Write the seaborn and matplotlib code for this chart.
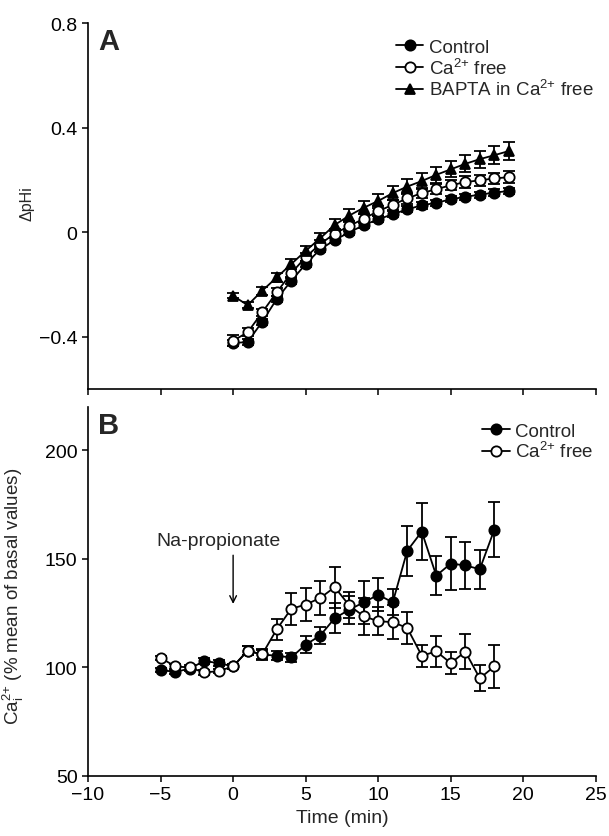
import numpy as np
import pandas as pd
import matplotlib
matplotlib.use("Agg")
import matplotlib.pyplot as plt
import seaborn as sns

# ---------------- data ----------------
# Panel A: delta pHi, time 0..19 min
time_a = list(range(0, 20))
ctrl_a = [-0.424, -0.420, -0.343, -0.256, -0.186, -0.122, -0.065, -0.030, 0.000, 0.027,
          0.050, 0.069, 0.088, 0.103, 0.113, 0.126, 0.136, 0.144, 0.152, 0.158]
ctrl_a_err = [0.012, 0.012, 0.012, 0.012, 0.012, 0.012, 0.012, 0.012, 0.012, 0.012,
              0.012, 0.012, 0.012, 0.012, 0.012, 0.012, 0.012, 0.012, 0.012, 0.012]
cafree_a = [-0.415, -0.383, -0.307, -0.230, -0.157, -0.095, -0.045, -0.005, 0.024, 0.052,
            0.081, 0.105, 0.130, 0.150, 0.165, 0.180, 0.192, 0.199, 0.206, 0.211]
cafree_a_err = [0.020, 0.015, 0.015, 0.015, 0.015, 0.015, 0.015, 0.018, 0.018, 0.018,
                0.020, 0.020, 0.020, 0.020, 0.020, 0.020, 0.022, 0.022, 0.022, 0.022]
bapta_a = [-0.243, -0.279, -0.224, -0.173, -0.122, -0.071, -0.023, 0.028, 0.064, 0.094,
           0.120, 0.150, 0.175, 0.196, 0.220, 0.241, 0.262, 0.280, 0.295, 0.311]
bapta_a_err = [0.010, 0.012, 0.015, 0.018, 0.020, 0.020, 0.022, 0.022, 0.024, 0.025,
               0.026, 0.027, 0.028, 0.029, 0.030, 0.031, 0.032, 0.033, 0.034, 0.035]

# Panel B: Ca2+i (% basal), time -5..18 min
time_b = list(range(-5, 19))
ctrl_b = [98.8, 98.0, 99.4, 103.0, 102.0, 100.5, 107.7, 106.0, 105.4, 104.6, 110.5, 114.7,
          122.7, 126.6, 130.0, 133.5, 130.0, 153.8, 162.6, 142.3, 147.9, 147.0, 145.3, 163.5]
ctrl_b_err = [1, 1, 1, 1.5, 1.5, 1, 2, 2.5, 2, 2, 4, 4,
              7, 6.5, 10, 7.5, 6, 11.5, 13, 9, 12, 11, 9, 12.7]
cafree_b = [104.5, 100.5, 100.0, 97.7, 98.3, 100.5, 107.7, 106.0, 117.5, 127.0, 129.0, 132.0,
            137.0, 128.6, 123.6, 121.3, 120.9, 118.2, 105.4, 107.4, 102.0, 107.3, 95.0, 100.5]
cafree_b_err = [1, 1, 1, 1, 1, 1, 2, 2, 5, 7.5, 7.5, 8,
                9.5, 6, 8.5, 6.5, 8, 7.5, 5, 7, 5, 8, 6, 10]

x_ticks = [-10, -5, 0, 5, 10, 15, 20, 25]
ya_ticks = [-0.4, 0, 0.4, 0.8]
ya_labels = ["\u22120.4", "0", "0.4", "0.8"]
yb_ticks = [50, 100, 150, 200]

# ---------------- style ----------------
sns.set_theme(style="ticks")
plt.rcParams["font.family"] = ["Liberation Sans", "DejaVu Sans"]
plt.rcParams["mathtext.fontset"] = "custom"
plt.rcParams["mathtext.rm"] = "Liberation Sans"
plt.rcParams["mathtext.it"] = "Liberation Sans:italic"
plt.rcParams["mathtext.bf"] = "Liberation Sans:bold"
plt.rcParams["axes.linewidth"] = 1.2
plt.rcParams["xtick.major.width"] = 1.1
plt.rcParams["ytick.major.width"] = 1.1
plt.rcParams["xtick.major.size"] = 4.5
plt.rcParams["ytick.major.size"] = 4.5
plt.rcParams["xtick.color"] = "black"
plt.rcParams["ytick.color"] = "black"
plt.rcParams["axes.edgecolor"] = "black"

fig = plt.figure(figsize=(6.09, 8.37), dpi=100)
axA = fig.add_axes([0.1445, 0.534, 0.834, 0.437])
axB = fig.add_axes([0.1445, 0.0717, 0.834, 0.4408])

MS = 7.4
LW = 1.3
TICK_FS = 14
LEG_FS = 13.5


def series(ax, t, y, err, marker, filled, label, ms=MS):
    df = pd.DataFrame({"t": t, "y": y})
    ax.errorbar(t, y, yerr=err, fmt="none", ecolor="black", elinewidth=LW,
                capsize=4.2, capthick=LW, zorder=2)
    sns.lineplot(data=df, x="t", y="y", ax=ax, color="black", lw=LW,
                 marker=marker, markersize=ms,
                 markerfacecolor="black" if filled else "white",
                 markeredgecolor="black", markeredgewidth=1.3,
                 label=label, zorder=3, legend=False)


ca_label = "Ca$^{2{+}}$ free"

# Panel A
series(axA, time_a, ctrl_a, ctrl_a_err, "o", True, "Control")
series(axA, time_a, cafree_a, cafree_a_err, "o", False, ca_label)
series(axA, time_a, bapta_a, bapta_a_err, "^", True, "BAPTA in " + ca_label, ms=7.6)

axA.set_xlim(-10, 25)
axA.set_ylim(-0.6, 0.8)
axA.set_xticks(x_ticks)
axA.set_xticklabels([])
axA.set_yticks(ya_ticks)
axA.set_yticklabels(ya_labels, fontsize=TICK_FS)
axA.set_xlabel("")
axA.set_ylabel("\u0394pHi", fontsize=11.5)
axA.yaxis.set_label_coords(-0.105, 0.51)
axA.text(0.02, 0.99, "A", transform=axA.transAxes, fontsize=21,
         fontweight="bold", va="top", ha="left")
axA.legend(loc="upper right", frameon=False, fontsize=LEG_FS,
           handlelength=1.45, handletextpad=0.3, labelspacing=0.08,
           borderaxespad=0.0, bbox_to_anchor=(1.01, 0.978))

# Panel B
series(axB, time_b, ctrl_b, ctrl_b_err, "o", True, "Control")
series(axB, time_b, cafree_b, cafree_b_err, "o", False, ca_label)

axB.set_xlim(-10, 25)
axB.set_ylim(50, 220)
axB.set_xticks(x_ticks)
axB.set_xticklabels([("\u2212" + str(abs(v))) if v < 0 else str(v) for v in x_ticks],
                    fontsize=TICK_FS)
axB.set_yticks(yb_ticks)
axB.set_yticklabels([str(v) for v in yb_ticks], fontsize=TICK_FS)
axB.set_xlabel("Time (min)", fontsize=14, labelpad=4)
axB.set_ylabel("Ca$^{2{+}}_{\\mathrm{i}}$ (% mean of basal values)", fontsize=13.5)
axB.yaxis.set_label_coords(-0.122, 0.49)
axB.text(0.02, 0.99, "B", transform=axB.transAxes, fontsize=21,
         fontweight="bold", va="top", ha="left")
axB.legend(loc="upper right", frameon=False, fontsize=LEG_FS,
           handlelength=1.45, handletextpad=0.3, labelspacing=0.08,
           borderaxespad=0.0, bbox_to_anchor=(1.01, 0.978))

axB.annotate("", xy=(0, 128), xytext=(0, 153),
             arrowprops=dict(arrowstyle="->", color="black", lw=1.0,
                             mutation_scale=12))
axB.text(-1.0, 154.5, "Na-propionate", fontsize=14, ha="center", va="bottom")

for ax in (axA, axB):
    sns.despine(ax=ax)
    ax.tick_params(axis="both", direction="out", pad=3, labelcolor="black")

fig.savefig("out.png", dpi=100)
